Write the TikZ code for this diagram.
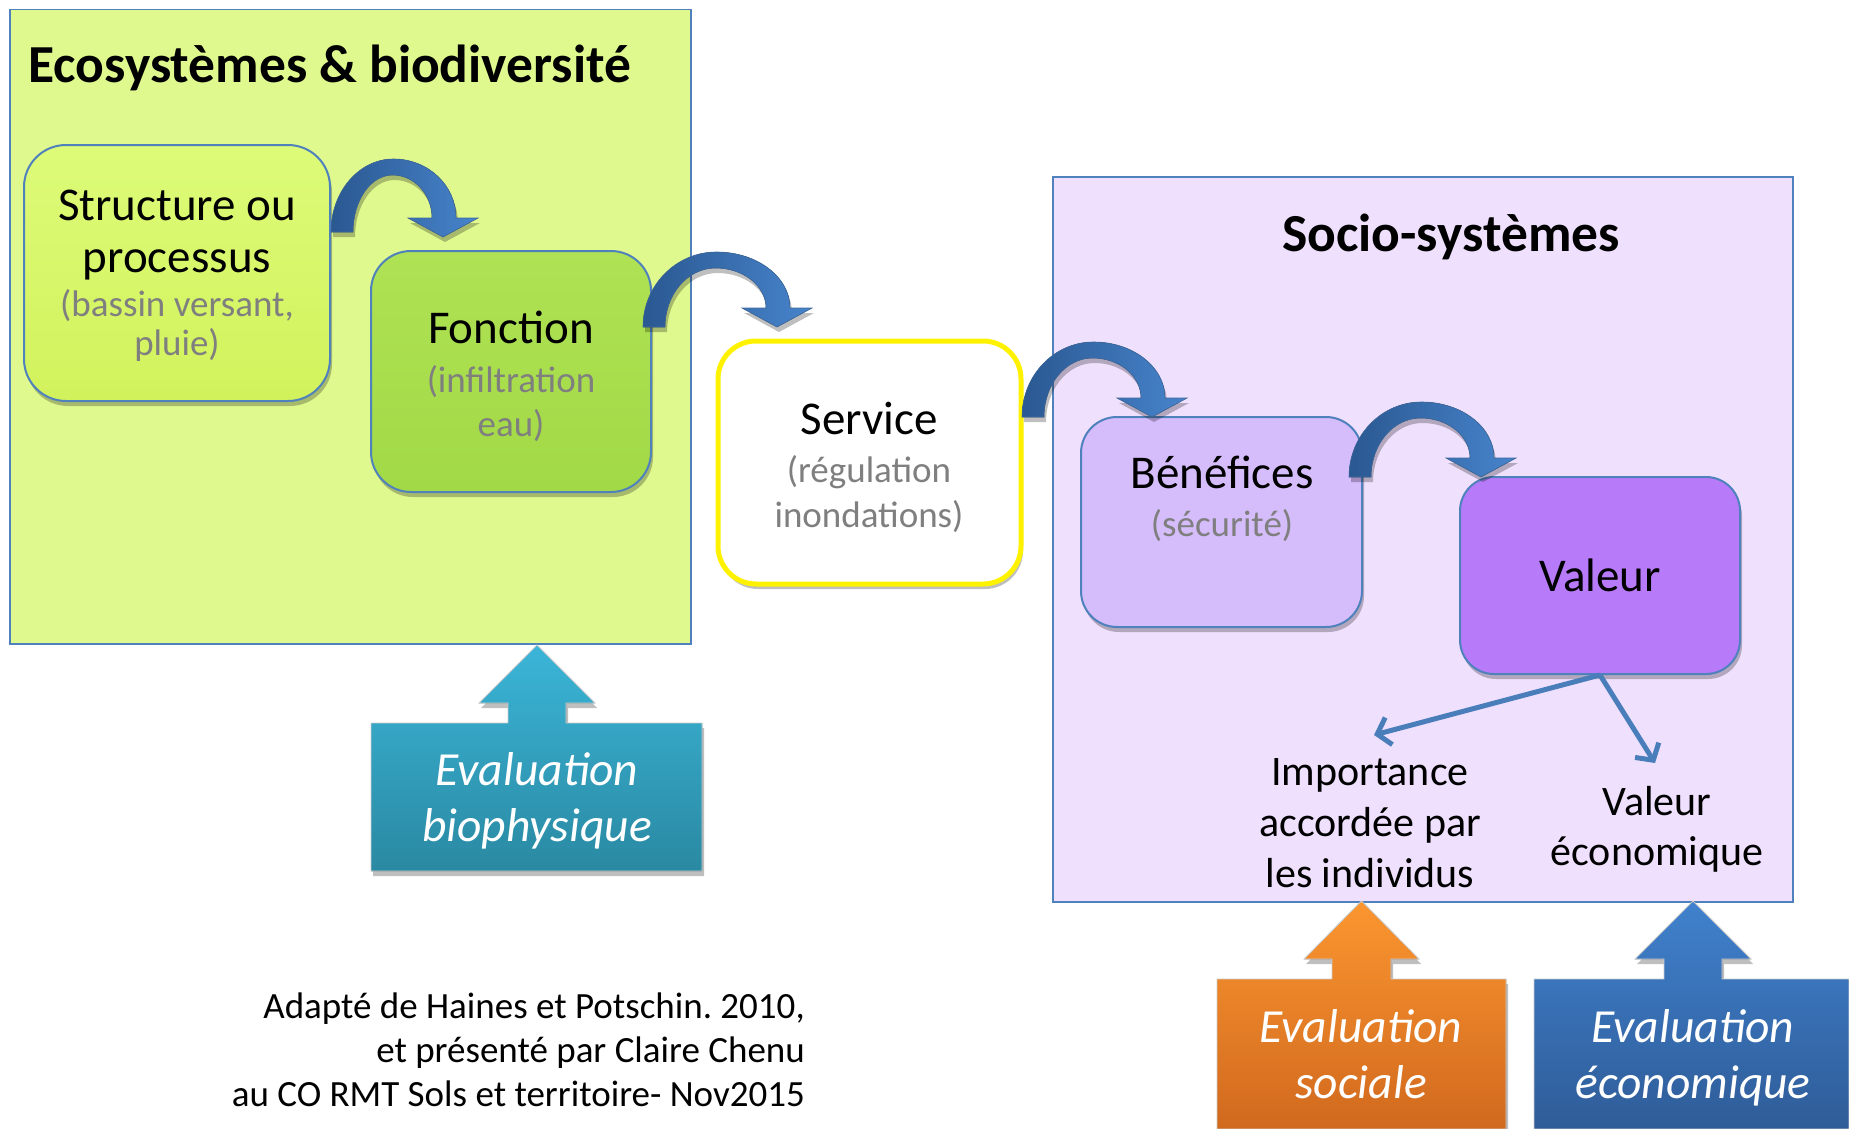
\documentclass[tikz,border=0pt]{standalone}
\usepackage{fontspec}
\setmainfont{Carlito}
\frenchspacing
\usetikzlibrary{shadows,arrows.meta}

\definecolor{ecobg}{HTML}{E0F98F}
\definecolor{sociobg}{HTML}{EFE0FD}
\definecolor{frameblue}{HTML}{4F81BD}
\definecolor{structtop}{HTML}{DDFB78}
\definecolor{structbot}{HTML}{D2F25C}
\definecolor{fonctop}{HTML}{AFE254}
\definecolor{foncbot}{HTML}{A2D946}
\definecolor{benefc}{HTML}{D5BCFB}
\definecolor{valeurc}{HTML}{B77AF8}
\definecolor{greytxt}{HTML}{7F7F7F}
\definecolor{arrdark}{HTML}{2A5891}
\definecolor{arrlight}{HTML}{4784CC}
\definecolor{thinarrow}{HTML}{4A7EBB}
\definecolor{biotop}{HTML}{3BB5D8}
\definecolor{biobot}{HTML}{2A89A2}
\definecolor{soctop}{HTML}{FB9630}
\definecolor{socbot}{HTML}{D1691E}
\definecolor{ecotop}{HTML}{4081CD}
\definecolor{ecobot}{HTML}{2F5C98}

\newcommand{\bentblockarrow}[5]{%
 \pgfmathsetmacro{\bbHb}{#5-19}%
 \pgfmathsetmacro{\bbOx}{#4+13}%
 \pgfmathsetmacro{\bbIx}{#4-11}%
 \pgfmathsetmacro{\bbMx}{(#1+\bbOx)/2}%
 \pgfmathsetmacro{\bbFi}{#1+22}%
 \pgfmathsetmacro{\bbAi}{#3+16}%
 \pgfmathsetmacro{\bbMi}{(\bbFi+\bbIx)/2}%
 \fill[bentarrow] (#1,#2) .. controls (#1,{#2-0.5523*(#2-#3)}) and ({\bbMx-0.5523*(\bbMx-#1)},#3) .. (\bbMx,#3)
   .. controls ({\bbMx+0.5523*(\bbOx-\bbMx)},#3) and (\bbOx,{\bbHb-0.5523*(\bbHb-#3)}) .. (\bbOx,\bbHb)
   -- ({#4+35},\bbHb) -- (#4,#5) -- ({#4-35},\bbHb) -- (\bbIx,\bbHb)
   .. controls (\bbIx,{\bbHb-0.5523*(\bbHb-\bbAi)}) and ({\bbMi+0.5523*(\bbIx-\bbMi)},\bbAi) .. (\bbMi,\bbAi)
   .. controls ({\bbMi-0.5523*(\bbMi-\bbFi)},\bbAi) and (\bbFi,{#2-0.5523*(#2-\bbAi)}) .. (\bbFi,#2) -- cycle;
}

\begin{document}
\begin{tikzpicture}[x=1pt,y=-1pt,
  container/.style={draw=frameblue, line width=1.5pt, rectangle, anchor=north west, inner sep=0pt},
  softshadow/.style={drop shadow={shadow xshift=2pt, shadow yshift=-5pt, opacity=.25, fill=black}},
  rbox/.style={draw=frameblue, line width=2pt, rectangle, rounded corners=#1, inner sep=0pt, softshadow},
  maintxt/.style={font=\fontsize{47}{56}\selectfont, anchor=base, inner sep=0pt},
  subtxt/.style={font=\fontsize{37}{44}\selectfont, text=greytxt, anchor=base, inner sep=0pt},
  plaintxt/.style={font=\fontsize{42}{50}\selectfont, anchor=base, inner sep=0pt},
  titletxt/.style={font=\fontsize{53.5}{64}\selectfont\bfseries, anchor=base, inner sep=0pt},
  evaltxt/.style={font=\fontsize{47.5}{57}\selectfont\itshape, text=white, anchor=base, inner sep=0pt},
  captxt/.style={font=\fontsize{37}{44}\selectfont, anchor=base east, inner sep=0pt},
  bentarrow/.style={left color=arrdark, right color=arrlight, draw=arrdark!90, line width=0.6pt, softshadow},
  evalshape/.style={draw=white!80!black, line width=0.8pt, softshadow},
  thinarr/.style={draw=thinarrow, line width=5pt, -{Straight Barb[length=12pt,width=28pt]}}
]
\useasboundingbox (0,0) rectangle (1849,1129);
\fill[white] (0,0) rectangle (1849,1129);

% containers
\node[container, fill=ecobg, minimum width=681pt, minimum height=634pt] (eco) at (9,9) {};
\node[container, fill=sociobg, minimum width=740pt, minimum height=725pt] (socio) at (1052,176) {};

\node[titletxt, anchor=base west] (ecotitle) at (28,83) {Ecosystèmes \& biodiversité};
\node[titletxt] (sociotitle) at (1451,251) {Socio-systèmes};

% boxes
\node[rbox=42pt, top color=structtop, bottom color=structbot, minimum width=306pt, minimum height=256pt] (struct) at (177,273) {};
\node[rbox=40pt, top color=fonctop, bottom color=foncbot, minimum width=280pt, minimum height=241pt] (fonction) at (511,371.5) {};
\node[rbox=38pt, draw=yellow, line width=5pt, fill=white, minimum width=303pt, minimum height=243pt] (service) at (869.5,462.5) {};
\node[rbox=36pt, fill=benefc, minimum width=281pt, minimum height=210pt] (benef) at (1221.5,522) {};
\node[rbox=34pt, fill=valeurc, minimum width=280pt, minimum height=197pt] (valeur) at (1600,575.5) {};

% box texts
\node[maintxt] (struct1) at (177,220) {Structure ou};
\node[maintxt] (struct2) at (177,272) {processus};
\node[subtxt] (struct3) at (177,316) {(bassin versant,};
\node[subtxt] (struct4) at (177,355) {pluie)};

\node[maintxt] (fonc1) at (511,343) {Fonction};
\node[subtxt] (fonc2) at (511,392) {(infiltration};
\node[subtxt] (fonc3) at (511,436) {eau)};

\node[maintxt] (serv1) at (869,434) {Service};
\node[subtxt] (serv2) at (869,482) {(régulation};
\node[subtxt] (serv3) at (869,527) {inondations)};

\node[maintxt] (benef1) at (1222,488) {Bénéfices};
\node[subtxt] (benef2) at (1222,536) {(sécurité)};

\node[maintxt] (valeur1) at (1600,591) {Valeur};

% bent block arrows
\bentblockarrow{331}{232}{159}{443}{237}
\bentblockarrow{643}{327}{252}{777}{327}
\bentblockarrow{1022}{417}{342}{1152}{417}
\bentblockarrow{1349}{477}{402}{1481}{477}

% outcome texts
\node[plaintxt] (imp1) at (1370,785) {Importance};
\node[plaintxt] (imp2) at (1370,836) {accordée par};
\node[plaintxt] (imp3) at (1370,887) {les individus};
\node[plaintxt] (eco1) at (1657,815) {Valeur};
\node[plaintxt] (eco2) at (1657,865) {économique};

\coordinate (impend) at (1374,735);
\coordinate (ecoend) at (1655,763);
\draw[thinarr] (valeur.south) -- (impend);
\draw[thinarr] (valeur.south) -- (ecoend);

% evaluation arrows
\filldraw[evalshape, top color=biotop, bottom color=biobot]
  (371,871) -- (371,723) -- (508,723) -- (508,703) -- (479,703) -- (537,645) -- (595,703)
  -- (566,703) -- (566,723) -- (702,723) -- (702,871) -- cycle;
\node[evaltxt] (bio1) at (537,785) {Evaluation};
\node[evaltxt] (bio2) at (537,841) {biophysique};

\filldraw[evalshape, top color=soctop, bottom color=socbot]
  (1217,1129) -- (1217,979) -- (1332,979) -- (1332,959) -- (1304,959) -- (1361.5,901) -- (1419,959)
  -- (1391,959) -- (1391,979) -- (1506,979) -- (1506,1129) -- cycle;
\node[evaltxt] (soc1) at (1361,1042) {Evaluation};
\node[evaltxt] (soc2) at (1361,1098) {sociale};

\filldraw[evalshape, top color=ecotop, bottom color=ecobot]
  (1534,1129) -- (1534,979) -- (1664,979) -- (1664,959) -- (1635,959) -- (1693,901) -- (1751,959)
  -- (1722,959) -- (1722,979) -- (1849,979) -- (1849,1129) -- cycle;
\node[evaltxt] (ecoev1) at (1693,1042) {Evaluation};
\node[evaltxt] (ecoev2) at (1693,1098) {économique};

% caption
\node[captxt] (cap1) at (805,1018) {Adapté de Haines et Potschin. 2010,};
\node[captxt] (cap2) at (805,1062) {et présenté par Claire Chenu};
\node[captxt] (cap3) at (805,1106) {au CO RMT Sols et territoire- Nov2015};
\end{tikzpicture}
\end{document}
